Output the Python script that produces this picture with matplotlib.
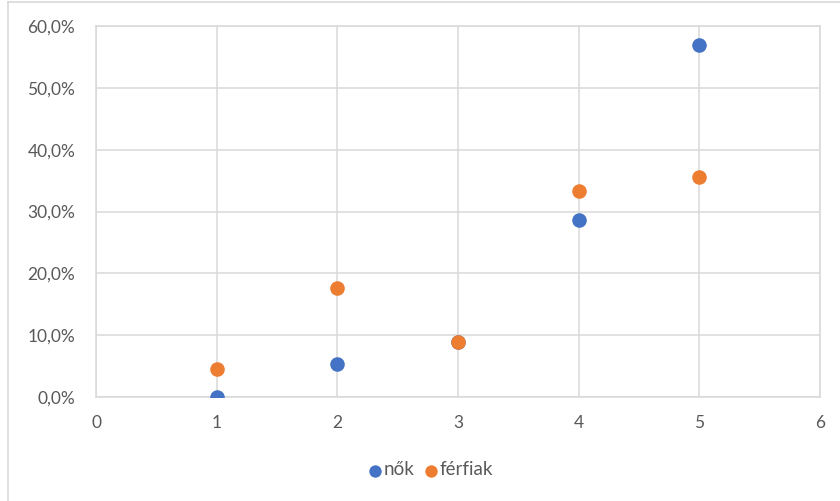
import matplotlib.pyplot as plt
from matplotlib.lines import Line2D
from matplotlib.ticker import FuncFormatter

x_vals = [1, 2, 3, 4, 5]
nok = [0.0, 5.3, 8.9, 28.6, 57.0]
ferfiak = [4.5, 17.6, 8.9, 33.3, 35.6]
series_names = ['nők', 'férfiak']

blue = '#4472C4'
orange = '#ED7D31'
grid_col = '#D9D9D9'
text_col = '#595959'

plt.rcParams['font.family'] = ['Lato', 'DejaVu Sans']

fig = plt.figure(figsize=(8.4, 5.01), dpi=100)
ax = fig.add_axes([0.1143, 0.2076, 0.976 - 0.1143, 0.948 - 0.2076])

ax.scatter(x_vals, nok, s=110, color=blue, zorder=3, label=series_names[0], linewidths=0)
ax.scatter(x_vals, ferfiak, s=110, color=orange, zorder=3, label=series_names[1], linewidths=0)

ax.set_xlim(0, 6)
ax.set_ylim(0, 60)
ax.set_xticks(range(0, 7))
ax.set_yticks(range(0, 61, 10))
ax.yaxis.set_major_formatter(FuncFormatter(lambda v, p: '{:.1f}%'.format(v).replace('.', ',')))
ax.grid(True, color=grid_col, linewidth=1.1, zorder=0)
for s in ax.spines.values():
    s.set_color(grid_col)
    s.set_linewidth(1.1)
ax.tick_params(length=0, labelsize=12.5, labelcolor=text_col)
ax.tick_params(axis='y', pad=15)
ax.tick_params(axis='x', pad=13)

leg = fig.legend(loc='center', bbox_to_anchor=(0.51, 0.062), ncol=2, frameon=False,
                 handletextpad=-0.15, handlelength=1.2, columnspacing=0.3,
                 fontsize=13.5, markerscale=0.85)
for t in leg.get_texts():
    t.set_color(text_col)

# outer chart frame
fig.add_artist(Line2D([0.0095, 0.0095], [0, 0.997], color='#D9D9D9', linewidth=1.2))
fig.add_artist(Line2D([0.0095, 1], [0.997, 0.997], color='#D9D9D9', linewidth=1.2))

plt.savefig('out.png', dpi=100)
